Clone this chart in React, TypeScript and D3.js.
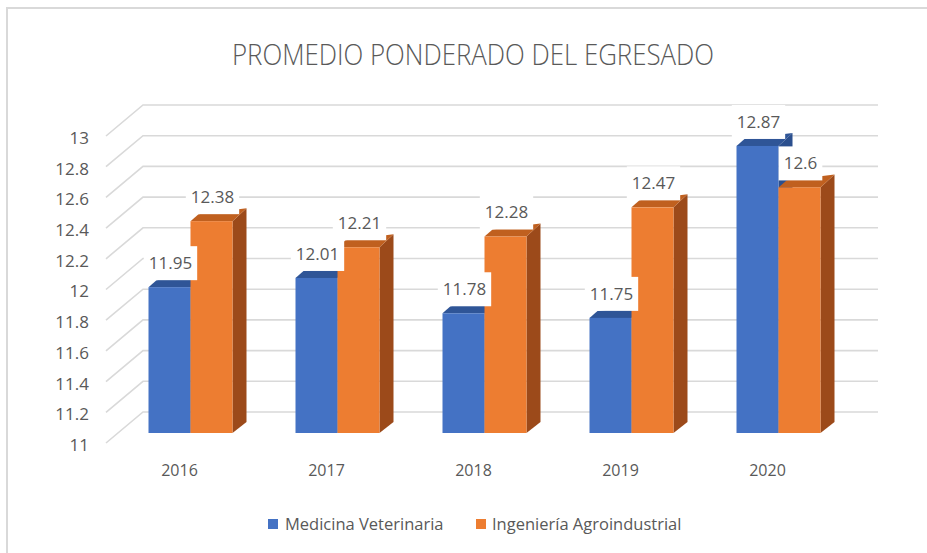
import React, { useEffect, useRef } from 'react';
import * as d3 from 'd3';

const categories = ['2016', '2017', '2018', '2019', '2020'];
const medicina = [11.95, 12.01, 11.78, 11.75, 12.87];
const ingenieria = [12.38, 12.21, 12.28, 12.47, 12.6];
const yTicks = [11, 11.2, 11.4, 11.6, 11.8, 12, 12.2, 12.4, 12.6, 12.8, 13];
const seriesNames = ['Medicina Veterinaria', 'Ingeniería Agroindustrial'];

const FONT = "'Open Sans', 'Noto Sans', sans-serif";
const TEXT = '#595959';

const App: React.FC = () => {
  const svgRef = useRef<SVGSVGElement>(null);

  useEffect(() => {
    if (!svgRef.current) return;
    const width = 927;
    const height = 553;
    const svg = d3.select(svgRef.current);
    svg.selectAll('*').remove();

    svg.append('rect').attr('width', width).attr('height', height).attr('fill', '#fff');
    // chart frame
    svg.append('rect')
      .attr('x', 7).attr('y', 8).attr('width', 940).attr('height', 580)
      .attr('fill', 'none').attr('stroke', '#d9d9d9').attr('stroke-width', 2);

    // title
    svg.append('text')
      .text('PROMEDIO PONDERADO DEL EGRESADO')
      .attr('x', 473).attr('y', 65)
      .attr('text-anchor', 'middle')
      .attr('font-family', FONT).attr('font-size', 30).attr('font-weight', 300)
      .attr('textLength', 482).attr('lengthAdjust', 'spacingAndGlyphs')
      .attr('fill', TEXT);

    // 3D layout: front plane, back wall offset, bar plane offset
    const x = d3.scaleBand().domain(categories).range([106, 841]);
    const y = d3.scaleLinear().domain([11, 13]).range([443, 136]);
    const back = { dx: 37, dy: -31 };
    const plane = { dx: 11, dy: -10 };
    const barW = 42;

    // gridlines (wall + diagonals)
    const grid = svg.append('g').attr('stroke', '#d9d9d9').attr('stroke-width', 1.6).attr('fill', 'none');
    yTicks.forEach((t) => {
      const yf = y(t);
      grid.append('path')
        .attr('d', `M${106},${yf}L${106 + back.dx},${yf + back.dy}L${841 + back.dx},${yf + back.dy}`);
    });

    // y tick labels
    svg.append('g').selectAll('text').data(yTicks).join('text')
      .text((d) => String(+d.toFixed(1)))
      .attr('x', 89).attr('y', (d) => y(d) + 2)
      .attr('dy', '0.35em')
      .attr('text-anchor', 'end')
      .attr('font-family', FONT).attr('font-size', 17)
      .attr('fill', TEXT);

    // category labels
    svg.append('g').selectAll('text').data(categories).join('text')
      .text((d) => d)
      .attr('x', (d) => (x(d) as number) + x.bandwidth() / 2)
      .attr('y', 476)
      .attr('text-anchor', 'middle')
      .attr('font-family', FONT).attr('font-size', 16)
      .attr('fill', TEXT);

    const drawBar = (x0: number, value: number, front: string, top: string, side: string) => {
      const x1 = x0 + barW;
      const yT = y(value) + plane.dy;
      const yB = y(11) + plane.dy;
      const g = svg.append('g');
      g.append('path')
        .attr('d', `M${x1},${yT}L${x1 + 14},${yT - 13}L${x1 + 14},${yB - 11}L${x1},${yB}Z`)
        .attr('fill', side);
      g.append('path')
        .attr('d', `M${x0},${yT}L${x0 + 8},${yT - 7}L${x1 + 14},${yT - 13}L${x1},${yT}Z`)
        .attr('fill', top);
      g.append('rect')
        .attr('x', x0).attr('y', yT).attr('width', barW).attr('height', yB - yT)
        .attr('fill', front);
    };

    const labels: { cx: number; cy: number; text: string }[] = [];
    categories.forEach((c, i) => {
      const center = (x(c) as number) + x.bandwidth() / 2 + plane.dx;
      drawBar(center - barW, medicina[i], '#4472c4', '#2f5597', '#2b4f8e');
      drawBar(center, ingenieria[i], '#ed7d31', '#c0601f', '#9c4a1a');
      labels.push({ cx: center - barW / 2 + 1, cy: y(medicina[i]) + plane.dy - 24, text: String(medicina[i]) });
      labels.push({ cx: center + barW / 2 + 1, cy: y(ingenieria[i]) + plane.dy - 24, text: String(ingenieria[i]) });
    });

    // data labels with white boxes
    labels.forEach((l) => {
      const g = svg.append('g');
      const box = g.append('rect').attr('fill', '#fff');
      const t = g.append('text')
        .text(l.text)
        .attr('x', l.cx).attr('y', l.cy)
        .attr('dy', '0.35em')
        .attr('text-anchor', 'middle')
        .attr('font-family', FONT).attr('font-size', 17)
        .attr('fill', TEXT);
      const w = (t.node() as SVGTextElement).getComputedTextLength();
      box.attr('x', l.cx - w / 2 - 5).attr('y', l.cy - 17).attr('width', w + 10).attr('height', 34);
    });

    // legend
    const legendItems = [
      { name: seriesNames[0], color: '#4472c4', x: 268, tx: 285 },
      { name: seriesNames[1], color: '#ed7d31', x: 476, tx: 492 },
    ];
    legendItems.forEach((it) => {
      svg.append('rect').attr('x', it.x).attr('y', 519).attr('width', 10).attr('height', 10).attr('fill', it.color);
      svg.append('text')
        .text(it.name)
        .attr('x', it.tx).attr('y', 524)
        .attr('dy', '0.35em')
        .attr('font-family', FONT).attr('font-size', 16.5)
        .attr('fill', TEXT);
    });
  }, []);

  return (
    <svg
      ref={svgRef}
      width={927}
      height={553}
      style={{ position: 'absolute', left: 0, top: 0, display: 'block' }}
    />
  );
};

export default App;
